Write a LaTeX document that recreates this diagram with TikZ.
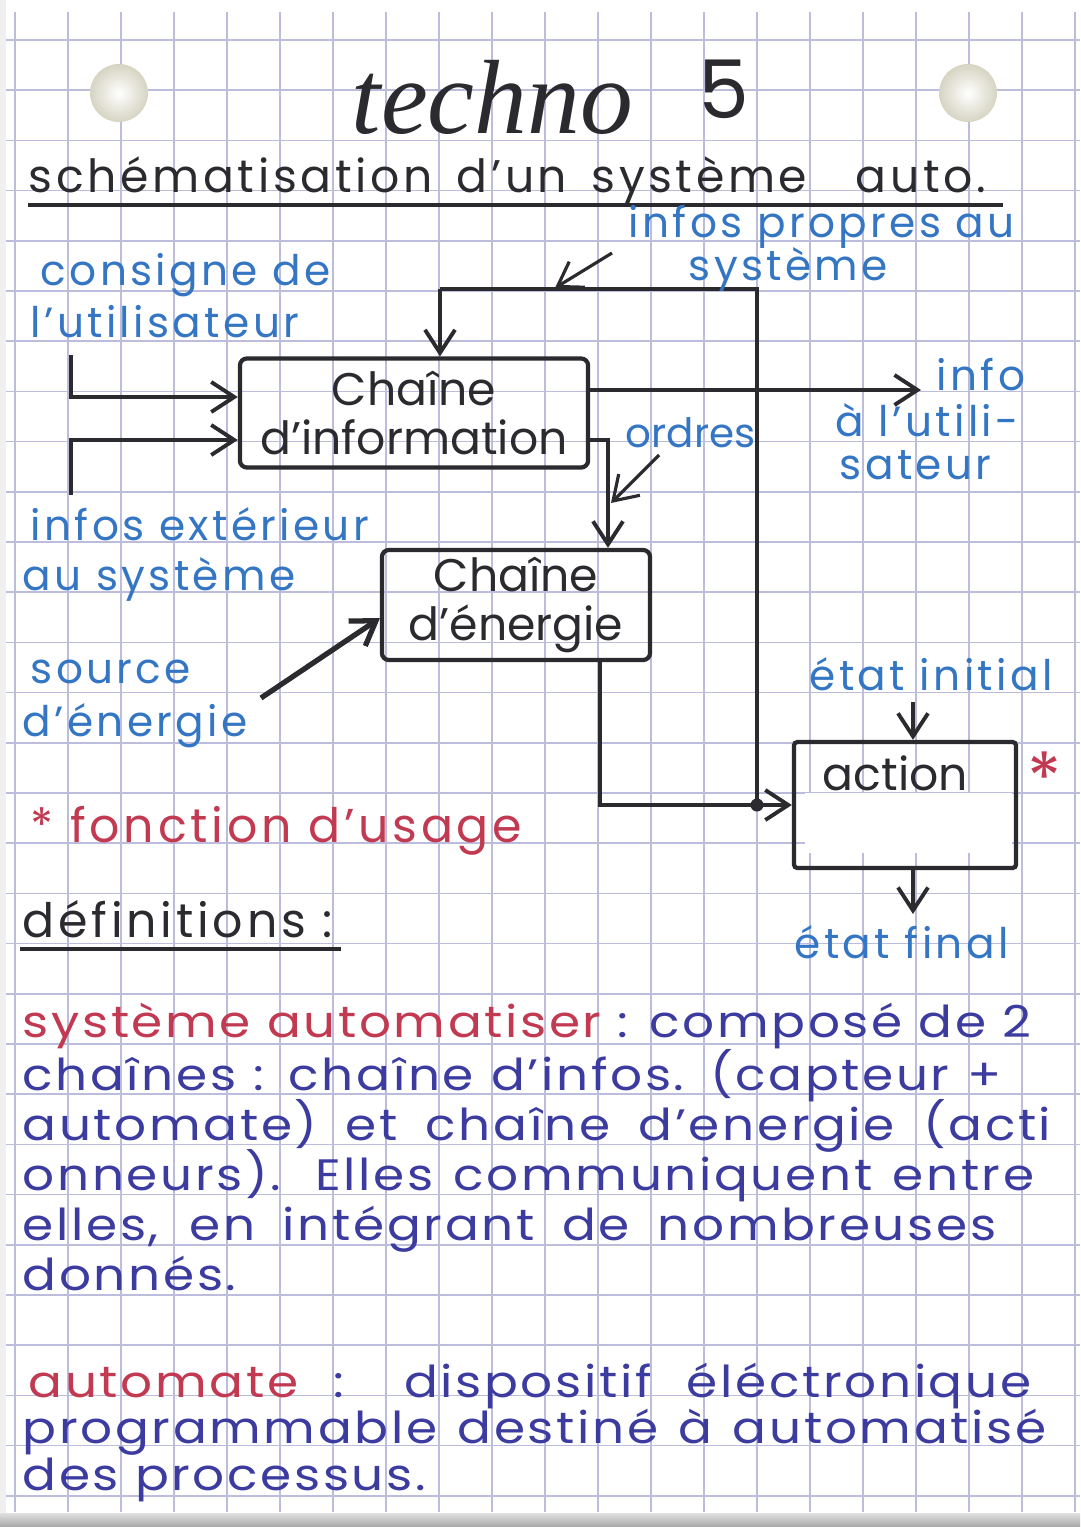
\documentclass[tikz,border=0pt]{standalone}
\usepackage{fontspec}
\setmainfont{Poppins}
\newfontfamily\titlehand{Liberation Serif}
\newfontfamily\lettre[LetterSpace=8, Ligatures=TeX]{Poppins}
\newfontfamily\ecrit[LetterSpace=6, FakeStretch=1.14, Ligatures=TeX]{Poppins}
\usetikzlibrary{arrows.meta, positioning}
\definecolor{ink}{HTML}{2B2A2E}
\definecolor{bleu}{HTML}{3476C4}
\definecolor{violet}{HTML}{3B3BA0}
\definecolor{rouge}{HTML}{C23A52}
\definecolor{grille}{HTML}{BCBCDD}
\definecolor{trou}{HTML}{D6D4C2}
\newcommand{\hand}{\lettre\fontsize{12}{13}\selectfont}
\newcommand{\defn}{\ecrit\fontsize{12.5}{14}\selectfont}
\newcommand{\ligne}[2]{\makebox[#1][s]{#2}}
\tikzset{
	bloc/.style={draw=ink, line width=1.2pt, rounded corners=2pt, align=center,
		inner sep=0pt, font=\fontsize{13}{14}\selectfont, text=ink},
	lbl/.style={anchor=base west, inner sep=0pt, font=\hand, text=bleu},
	deftxt/.style={anchor=base west, inner sep=0pt, font=\defn, text=violet},
	arr/.style={-{Straight Barb[length=2.3mm, width=3mm]}, line width=1.1pt, ink},
	trait/.style={line width=1.1pt, ink},
}

\begin{document}
\begin{tikzpicture}[x=0.01cm, y=-0.01cm]
	% paper
	\fill[white] (0,0) rectangle (1080,1527);
	\fill[black!6] (0,0) rectangle (6,1513);
	\shade[top color=black!12, bottom color=black!35] (0,1513) rectangle (1080,1527);
	\foreach \gx in {0,...,20}
		\draw[grille, line width=0.5pt] ({15+53*\gx},12) -- ({15+53*\gx},1512);
	\foreach \gy in {0,...,29}
		\draw[grille, line width=0.5pt] (6,{40+50.2*\gy}) -- (1080,{40+50.2*\gy});
	\shade[inner color=white, outer color=trou] (119,93) circle[radius=0.29cm];
	\shade[inner color=white, outer color=trou] (968,93) circle[radius=0.29cm];

	% title
	\node[anchor=base west, inner sep=0pt, text=ink,
		font=\titlehand\itshape\fontsize{30}{30}\selectfont] (titre) at (351,133) {techno};
	\node[anchor=base west, inner sep=0pt, text=ink, font=\fontsize{23}{23}\selectfont] (num) at (698,118) {5};
	\node[anchor=base west, inner sep=0pt, text=ink, font=\lettre\fontsize{13}{15}\selectfont] (soustitre) at (28,192)
		{\ligne{9.57cm}{schématisation d'un système \ auto.}};
	\draw[ink, line width=1.4pt] (28,205) -- (1003,205);

	% blocks
	\node[bloc, minimum width=3.48cm, minimum height=1.09cm] (info) at (414,413) {Chaîne\\d'information};
	\node[bloc, minimum width=2.68cm, minimum height=1.1cm] (energie) at (516,605) {Chaîne\\d'énergie};
	\fill[white] (805,793) rectangle (1012,853);
	\node[bloc, rounded corners=1pt, minimum width=2.22cm, minimum height=1.26cm] (action) at (905,805) {};
	\node[anchor=base west, inner sep=0pt, font=\fontsize{13}{14}\selectfont, text=ink] (actionlbl) at (822,790) {action};
	\node[text=rouge, font=\fontsize{20}{20}\selectfont] (etoile) at (1045,778) {*};

	% links
	\coordinate (fbL) at (440,289);
	\coordinate (junc) at (757,805);
	\draw[trait] (junc) |- (fbL);
	\draw[arr] (fbL) -- (fbL |- info.north);
	\coordinate (enerOut) at (600,805);
	\draw[arr] (enerOut |- energie.south) -- (enerOut) -- (action.west);
	\fill[ink] (junc) circle[radius=0.065cm];
	\coordinate (infoOut) at (921,390);
	\draw[arr] (infoOut -| info.east) -- (infoOut);
	\coordinate (ordK) at (608,440);
	\draw[arr] (ordK -| info.east) -- (ordK) -- (ordK |- energie.north);
	\coordinate (inA) at (71,355);
	\coordinate (inAk) at (71,397);
	\draw[arr] (inA) -- (inAk) -- (inAk -| info.west);
	\coordinate (inB) at (71,495);
	\coordinate (inBk) at (71,440);
	\draw[arr] (inB) -- (inBk) -- (inBk -| info.west);
	\coordinate (eiT) at (913,702);
	\draw[arr] (eiT) -- (eiT |- action.north);
	\coordinate (efH) at (913,914);
	\draw[arr] (efH |- action.south) -- (efH);

	% pointers from labels
	\coordinate (propT) at (612,253);
	\coordinate (propH) at (555,288);
	\draw[arr, line width=0.9pt] (propT) -- (propH);
	\coordinate (ordT) at (659,455);
	\coordinate (ordH) at (611,503);
	\draw[arr, line width=0.9pt] (ordT) -- (ordH);
	\coordinate (srcT) at (261,698);
	\coordinate (srcH) at (380,618);
	\draw[arr, line width=1.5pt] (srcT) -- (srcH);

	% blue labels
	\node[lbl] (consA) at (40,285) {consigne de};
	\node[lbl] (consB) at (30,337) {l'utilisateur};
	\node[lbl] (propA) at (628,237) {infos propres au};
	\node[lbl] (propB) at (688,280) {système};
	\node[lbl] (sortA) at (936,390) {info};
	\node[lbl] (sortB) at (835,436) {à l'utili-};
	\node[lbl] (sortC) at (839,479) {sateur};
	\node[lbl, font=\fontsize{11.5}{12}\selectfont] (ordres) at (625,447) {ordres};
	\node[lbl] (extA) at (30,540) {infos extérieur};
	\node[lbl] (extB) at (22,590) {au système};
	\node[lbl] (srcA) at (30,683) {source};
	\node[lbl] (srcB) at (22,736) {d'énergie};
	\node[lbl] (etatI) at (809,690) {état initial};
	\node[lbl] (etatF) at (794,958) {état final};
	\node[lbl, text=rouge, font=\lettre\fontsize{13.5}{15}\selectfont] (usage) at (30,842) {* fonction d'usage};

	% definitions
	\node[anchor=base west, inner sep=0pt, font=\lettre\fontsize{13.5}{15}\selectfont, text=ink] (defs) at (22,937) {définitions :};
	\draw[ink, line width=1.4pt] (20,949) -- (341,949);
	\node[deftxt] (sysA) at (22,1037) {\ligne{10.08cm}{\textcolor{rouge}{système automatiser} : composé de 2}};
	\node[deftxt] (sysB) at (22,1090) {\ligne{9.78cm}{chaînes : chaîne d'infos. (capteur +}};
	\node[deftxt] (sysC) at (22,1140) {\ligne{10.28cm}{automate) et chaîne d'energie (acti}};
	\node[deftxt] (sysD) at (22,1190) {\ligne{10.11cm}{onneurs). Elles communiquent entre}};
	\node[deftxt] (sysE) at (22,1240) {\ligne{9.73cm}{elles, en intégrant de nombreuses}};
	\node[deftxt] (sysF) at (22,1290) {donnés.};
	\node[deftxt] (autA) at (28,1397) {\ligne{10.02cm}{\textcolor{rouge}{automate} : dispositif éléctronique}};
	\node[deftxt] (autB) at (22,1443) {\ligne{10.23cm}{programmable destiné à automatisé}};
	\node[deftxt] (autC) at (22,1490) {des processus.};
\end{tikzpicture}
\end{document}
